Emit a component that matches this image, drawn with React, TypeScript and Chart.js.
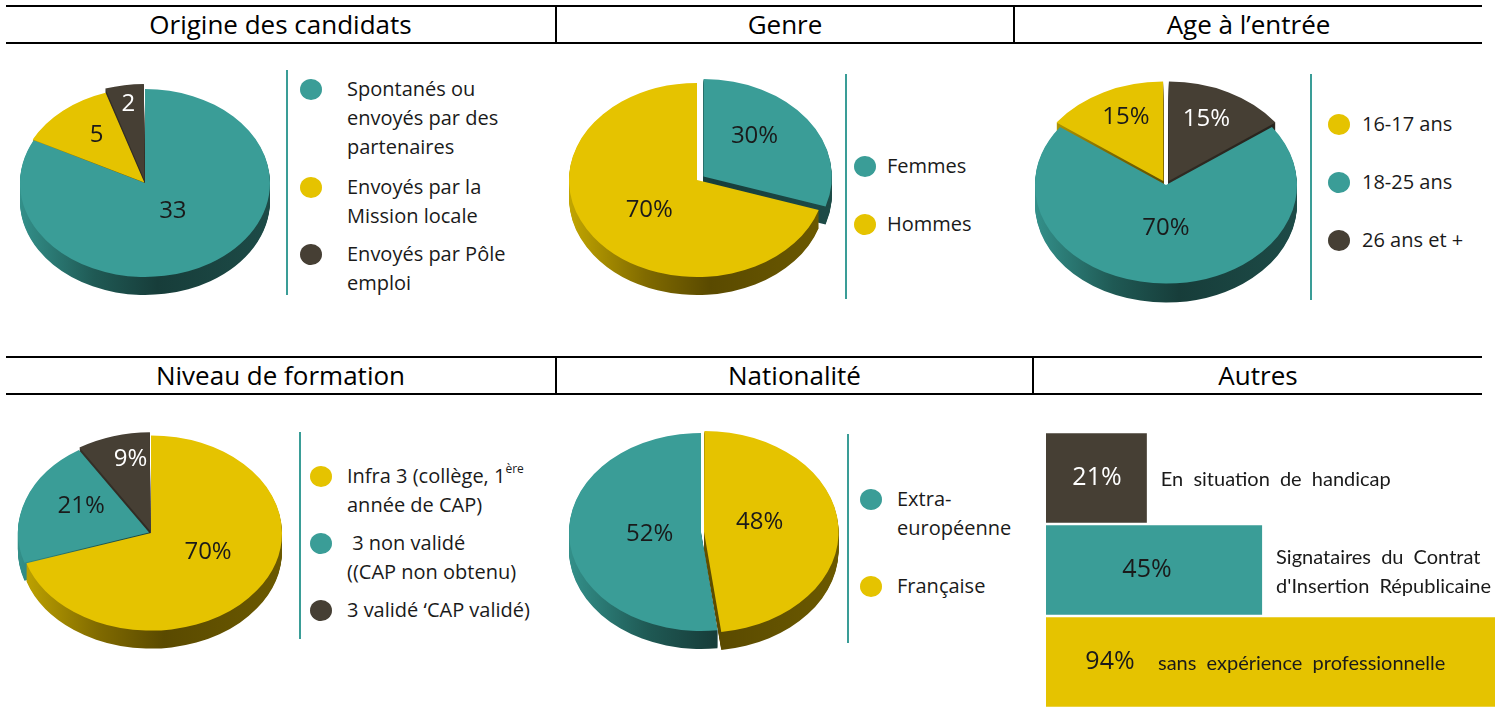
import React, { useEffect, useRef } from "react";
import { Chart, registerables } from "chart.js";

Chart.register(...registerables);

// ---------- palette ----------
const TEAL = "#3a9d97";
const YELLOW = "#e5c300";
const BROWN = "#463f34";
const INK = "#1a1a1a";
const TEAL_SIDE: [number, string][] = [[0, "#33908a"], [0.3, "#1f5954"], [0.55, "#173d3a"], [1, "#1d4b47"]];
const YELLOW_SIDE: [number, string][] = [[0, "#c2a600"], [0.3, "#806a00"], [0.55, "#5a4a00"], [1, "#6b5900"]];
const BROWN_SIDE: [number, string][] = [[0, "#3a342b"], [1, "#26221c"]];

// ---------- data ----------
const origineCategories = ["Spontanés ou envoyés par des partenaires", "Envoyés par la Mission locale", "Envoyés par Pôle emploi"];
const origineValues = [33, 5, 2];

const genreCategories = ["Femmes", "Hommes"];
const genreValues = [30, 70];

const ageCategories = ["16-17 ans", "18-25 ans", "26 ans et +"];
const ageValues = [15, 70, 15];

const niveauCategories = ["Infra 3 (collège, 1ère année de CAP)", "3 non validé ((CAP non obtenu)", "3 validé ‘CAP validé)"];
const niveauValues = [70, 21, 9];

const nationaliteCategories = ["Extra-européenne", "Française"];
const nationaliteValues = [52, 48];

const autresCategories = ["En situation de handicap", "Signataires du Contrat d'Insertion Républicaine", "sans expérience professionnelle"];
const autresValues = [21, 45, 94];

// ---------- text of legends / titles ----------
const titlesRow1 = ["Origine des candidats", "Genre", "Age à l’entrée"];
const titlesRow2 = ["Niveau de formation", "Nationalité", "Autres"];
const origineLegendLines = [["Spontanés ou", "envoyés par des", "partenaires"], ["Envoyés par la", "Mission locale"], ["Envoyés par Pôle", "emploi"]];
const genreLegendLines = [["Femmes"], ["Hommes"]];
const ageLegendLines = [["16-17 ans"], ["18-25 ans"], ["26 ans et +"]];
const niveauLegendLines = [["Infra 3 (collège, 1^ère", "année de CAP)"], [" 3 non validé", "((CAP non obtenu)"], ["3 validé ‘CAP validé)"]];
const nationaliteLegendLines = [["Extra-", "européenne"], ["Française"]];
const autresDescLines = [["En situation de handicap"], ["Signataires du Contrat", "d'Insertion Républicaine"], ["sans expérience professionnelle"]];

// ---------- 3D pie plugin ----------
function makeGrad(ctx: CanvasRenderingContext2D, x: number, r: number, stops: [number, string][]) {
  const g = ctx.createLinearGradient(x - r, 0, x + r, 0);
  stops.forEach(([p, c]) => g.addColorStop(p, c));
  return g;
}

const pie3d = {
  id: "pie3d",
  beforeDatasetsDraw(chart: any, _args: any, opts: any) {
    const els = chart.getDatasetMeta(0).data as any[];
    if (!els.length) return;
    const { x, y, outerRadius } = els[0];
    const ctx: CanvasRenderingContext2D = chart.ctx;
    ctx.save();
    ctx.translate(x, y);
    ctx.scale(1, opts.squash);
    ctx.translate(-x, -y);
    const grads = els.map((_el, i) => makeGrad(ctx, x, outerRadius, opts.sides[i]));
    for (let d = opts.depth; d >= 1; d--) {
      els.forEach((el, i) => {
        const orig = el.options;
        el.options = Object.assign({}, orig, { backgroundColor: grads[i], borderWidth: 0 });
        ctx.save();
        ctx.translate(0, d / opts.squash);
        el.draw(ctx);
        ctx.restore();
        el.options = orig;
      });
    }
  },
  afterDatasetsDraw(chart: any, _args: any, opts: any) {
    const ctx: CanvasRenderingContext2D = chart.ctx;
    ctx.restore();
    const els = chart.getDatasetMeta(0).data as any[];
    const data = chart.data.datasets[0].data;
    ctx.save();
    ctx.font = '24px "Open Sans"';
    ctx.textAlign = "center";
    ctx.textBaseline = "middle";
    els.forEach((el, i) => {
      const a = (el.startAngle + el.endAngle) / 2;
      const off = (el.options.offset || 0) / 4;
      const r = opts.fracs[i] * el.outerRadius + off;
      const [nx, ny] = opts.nudges[i];
      const lx = el.x + Math.cos(a) * r + nx;
      const ly = el.y + Math.sin(a) * r * opts.squash + ny;
      ctx.fillStyle = opts.textColors[i];
      ctx.fillText(String(data[i]) + opts.suffix, lx, ly);
    });
    ctx.restore();
  },
};

type PieProps = {
  cx: number; cy: number; w: number; h: number;
  categories: string[]; values: number[]; colors: string[]; sides: [number, string][][];
  order: number[]; offsets: number[]; radius: number; squash: number; depth: number;
  fracs: number[]; nudges: number[][]; textColors: string[]; suffix: string;
};

function Pie3D(p: PieProps) {
  const ref = useRef<HTMLCanvasElement>(null);
  useEffect(() => {
    const labels = p.order.map((i) => p.categories[i]);
    const data = p.order.map((i) => p.values[i]);
    const colors = p.order.map((i) => p.colors[i]);
    const sides = p.order.map((i) => p.sides[i]);
    const chart = new Chart(ref.current as HTMLCanvasElement, {
      type: "pie",
      data: {
        labels,
        datasets: [{ data, backgroundColor: colors, borderWidth: 0, offset: p.offsets, clip: false, radius: p.radius } as any],
      },
      options: {
        responsive: false,
        animation: false,
        devicePixelRatio: 1,
        events: [],
        radius: p.radius,
        layout: { padding: 0 },
        plugins: {
          legend: { display: false },
          tooltip: { enabled: false },
          pie3d: { squash: p.squash, depth: p.depth, sides, fracs: p.fracs, nudges: p.nudges, textColors: p.textColors, suffix: p.suffix },
        },
      } as any,
      plugins: [pie3d as any],
    });
    return () => chart.destroy();
  }, []);
  return (
    <canvas
      ref={ref}
      width={p.w}
      height={p.h}
      style={{ position: "absolute", left: p.cx - p.w / 2, top: p.cy - p.h / 2, width: p.w, height: p.h }}
    />
  );
}

// ---------- bar chart (Autres) ----------
const barLabelsPlugin = {
  id: "barLabels",
  afterDatasetsDraw(chart: any, _args: any, opts: any) {
    const ctx: CanvasRenderingContext2D = chart.ctx;
    const els = chart.getDatasetMeta(0).data as any[];
    const data = chart.data.datasets[0].data;
    ctx.save();
    els.forEach((el, i) => {
      const base = el.base;
      const end = el.x;
      const yy = el.y;
      ctx.font = '25px "Open Sans"';
      ctx.textAlign = "center";
      ctx.textBaseline = "middle";
      ctx.fillStyle = opts.valueColors[i];
      ctx.fillText(data[i] + "%", base + opts.valueDx[i], yy);
      ctx.font = '20px Lato';
      try { (ctx as any).wordSpacing = "5px"; } catch (e) {}
      ctx.textAlign = "left";
      ctx.fillStyle = INK;
      const lines: string[] = opts.desc[i];
      const dx = end + 14 > chart.width - 80 ? base + 112 : end + 14;
      lines.forEach((ln, k) => ctx.fillText(ln, dx, yy + 2 + (k - (lines.length - 1) / 2) * 29));
      try { (ctx as any).wordSpacing = "0px"; } catch (e) {}
    });
    ctx.restore();
  },
};

function AutresChart() {
  const ref = useRef<HTMLCanvasElement>(null);
  useEffect(() => {
    const chart = new Chart(ref.current as HTMLCanvasElement, {
      type: "bar",
      data: {
        labels: autresCategories,
        datasets: [{
          data: autresValues,
          backgroundColor: [BROWN, TEAL, YELLOW],
          borderWidth: 0,
          categoryPercentage: 1,
          barPercentage: 0.975,
        }],
      },
      options: {
        indexAxis: "y",
        responsive: false,
        animation: false,
        devicePixelRatio: 1,
        events: [],
        layout: { padding: 0 },
        scales: {
          x: { display: false, min: 0, max: 93.5 },
          y: { display: false },
        },
        plugins: {
          legend: { display: false },
          tooltip: { enabled: false },
          barLabels: { valueColors: ["#ffffff", INK, INK], valueDx: [51, 101, 64], desc: autresDescLines },
        },
      } as any,
      plugins: [barLabelsPlugin as any],
    });
    return () => chart.destroy();
  }, []);
  return <canvas ref={ref} width={449} height={276} style={{ position: "absolute", left: 1046, top: 432, width: 449, height: 276 }} />;
}

// ---------- HTML pieces ----------
function HeaderRow({ top, cells }: { top: number; cells: { title: string; w: number }[] }) {
  return (
    <div style={{
      position: "absolute", left: 6, top, width: 1476, height: 39, boxSizing: "border-box",
      borderTop: "2px solid #000", borderBottom: "2px solid #000", display: "flex",
    }}>
      {cells.map((c, i) => (
        <div key={i} style={{
          width: c.w, boxSizing: "border-box", borderLeft: i > 0 ? "2px solid #000" : "none",
          textAlign: "center", font: '26px "Open Sans"', lineHeight: "35px", color: "#000", whiteSpace: "nowrap",
        }}>{c.title}</div>
      ))}
    </div>
  );
}

function LineText({ text }: { text: string }) {
  if (text.includes("^")) {
    const [a, b] = text.split("^");
    return <>{a}<span style={{ fontSize: 12, position: "relative", top: -10 }}>{b}</span></>;
  }
  return <>{text}</>;
}

function Legend({ lineX, lineY0, lineY1, circleX, textX, entries }: {
  lineX: number; lineY0: number; lineY1: number; circleX: number; textX: number;
  entries: { color: string; y: number; lines: string[] }[];
}) {
  return (
    <>
      <div style={{ position: "absolute", left: lineX - 1, top: lineY0, width: 2, height: lineY1 - lineY0, background: TEAL }} />
      {entries.map((e, i) => (
        <React.Fragment key={i}>
          <div style={{ position: "absolute", left: circleX - 11, top: e.y - 10.5, width: 22, height: 21, borderRadius: "50%", background: e.color }} />
          {e.lines.map((ln, k) => (
            <div key={k} style={{
              position: "absolute", left: textX, top: e.y - 15 + k * 29, font: '20px "Open Sans"',
              lineHeight: "29px", color: INK, whiteSpace: "pre",
            }}><LineText text={ln} /></div>
          ))}
        </React.Fragment>
      ))}
    </>
  );
}

export default function App() {
  const sideOf = (c: string) => (c === TEAL ? TEAL_SIDE : c === YELLOW ? YELLOW_SIDE : BROWN_SIDE);
  const origineColors = [TEAL, YELLOW, BROWN];
  const genreColors = [TEAL, YELLOW];
  const ageColors = [YELLOW, TEAL, BROWN];
  const niveauColors = [YELLOW, TEAL, BROWN];
  const nationaliteColors = [TEAL, YELLOW];

  return (
    <div style={{ position: "fixed", left: 0, top: 0, width: 1495, height: 708, overflow: "hidden", background: "#fff", fontFamily: '"Open Sans"' }}>
      <HeaderRow top={5} cells={[{ title: titlesRow1[0], w: 549 }, { title: titlesRow1[1], w: 458 }, { title: titlesRow1[2], w: 469 }]} />
      <HeaderRow top={356} cells={[{ title: titlesRow2[0], w: 549 }, { title: titlesRow2[1], w: 477 }, { title: titlesRow2[2], w: 450 }]} />

      <Legend lineX={287} lineY0={70} lineY1={295} circleX={311} textX={347}
        entries={origineLegendLines.map((lines, i) => ({ color: origineColors[i], y: [89, 187, 254][i], lines }))} />
      <Legend lineX={846} lineY0={74} lineY1={299} circleX={865} textX={887}
        entries={genreLegendLines.map((lines, i) => ({ color: genreColors[i], y: [166, 224][i], lines }))} />
      <Legend lineX={1311} lineY0={74} lineY1={300} circleX={1339} textX={1362}
        entries={ageLegendLines.map((lines, i) => ({ color: ageColors[i], y: [124, 182, 240][i], lines }))} />
      <Legend lineX={300} lineY0={432} lineY1={639} circleX={321} textX={347}
        entries={niveauLegendLines.map((lines, i) => ({ color: niveauColors[i], y: [476, 543, 610][i], lines }))} />
      <Legend lineX={848} lineY0={434} lineY1={643} circleX={871} textX={897}
        entries={nationaliteLegendLines.map((lines, i) => ({ color: nationaliteColors[i], y: [499, 586][i], lines }))} />

      <Pie3D cx={145} cy={183} w={290} h={270} categories={origineCategories} values={origineValues}
        colors={origineColors} sides={origineColors.map(sideOf)} order={[0, 1, 2]} offsets={[0, 4, 16]}
        radius={125} squash={0.752} depth={18} fracs={[0.35, 0.65, 0.82]} nudges={[[5, 0], [5, -1], [0, 0]]}
        textColors={[INK, INK, "#ffffff"]} suffix="" />
      <Pie3D cx={697} cy={180} w={300} h={270} categories={genreCategories} values={genreValues}
        colors={genreColors} sides={genreColors.map(sideOf)} order={[0, 1]} offsets={[32, 0]}
        radius={128} squash={0.758} depth={18} fracs={[0.58, 0.48]} nudges={[[-9, -7], [2, 3]]}
        textColors={[INK, INK]} suffix="%" />
      <Pie3D cx={1166} cy={184.5} w={300} h={270} categories={ageCategories} values={ageValues}
        colors={ageColors} sides={ageColors.map(sideOf)} order={[2, 1, 0]} offsets={[24, 0, 24]}
        radius={131} squash={0.752} depth={19} fracs={[0.7, 0.44, 0.73]} nudges={[[-4, 0], [0, 0], [6, 0]]}
        textColors={["#ffffff", INK, INK]} suffix="%" />
      <Pie3D cx={151} cy={533} w={290} h={270} categories={niveauCategories} values={niveauValues}
        colors={niveauColors} sides={niveauColors.map(sideOf)} order={[0, 1, 2]} offsets={[0, 8, 12]}
        radius={131} squash={0.745} depth={18} fracs={[0.51, 0.6, 0.74]} nudges={[[3, -10], [6, -7], [7.5, -2.5]]}
        textColors={[INK, INK, "#ffffff"]} suffix="%" />
      <Pie3D cx={701} cy={531.5} w={300} h={270} categories={nationaliteCategories} values={nationaliteValues}
        colors={nationaliteColors} sides={nationaliteColors.map(sideOf)} order={[1, 0]} offsets={[12, 0]}
        radius={132} squash={0.75} depth={18} fracs={[0.43, 0.39]} nudges={[[-1, -7], [0, 0]]}
        textColors={[INK, INK]} suffix="%" />

      <AutresChart />
    </div>
  );
}
